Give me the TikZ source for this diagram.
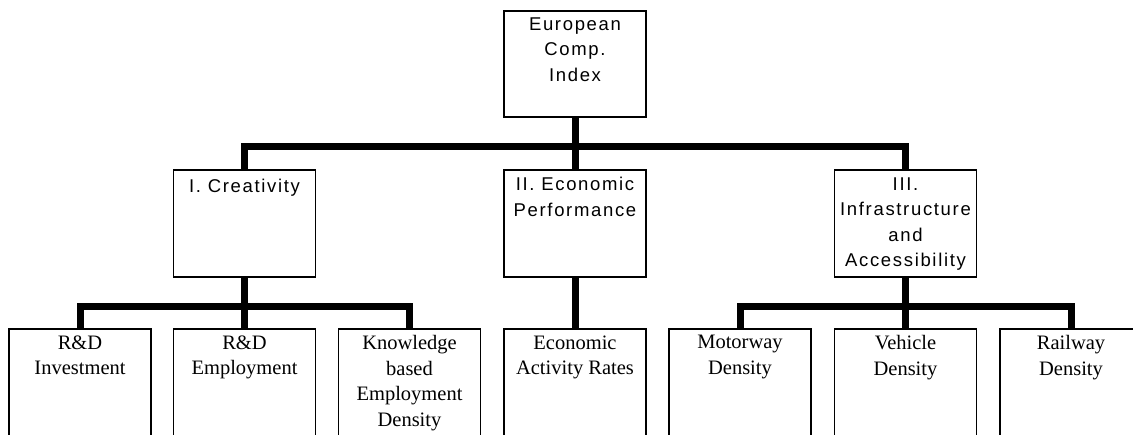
\documentclass[tikz,border=0pt]{standalone}
\usepackage{fontspec}
\setmainfont{Liberation Serif}
\newfontfamily\boxsans[LetterSpace=9]{Liberation Sans}
\newcommand{\firstlinestrut}{\rule{0pt}{15pt}}
\begin{document}
\begin{tikzpicture}[x=1pt,y=-1pt,
  box/.style={draw,line width=1.5pt,minimum width=142pt,inner sep=0pt,rectangle},
  topbox/.style={box,minimum height=106pt},
  midbox/.style={box,minimum height=107pt},
  lowbox/.style={box,minimum height=140pt},
  sanstxt/.style={font=\boxsans\fontsize{18.5}{25.5}\selectfont,align=center,anchor=north,inner sep=0pt,execute at begin node=\firstlinestrut},
  seriftxt/.style={font=\fontsize{20.5}{25.5}\selectfont,align=center,anchor=north,inner sep=0pt,execute at begin node=\firstlinestrut},
  conn/.style={line width=7pt,line join=miter,line cap=butt}]
\clip (0,0) rectangle (1133,434);
% level 1
\node[topbox] (top) at (575,64) {};
% level 2
\node[midbox] (cre) at (244.5,223.5) {};
\node[midbox] (eco) at (575,223.5) {};
\node[midbox] (inf) at (905.5,223.5) {};
% level 3
\node[lowbox] (rdi) at (80,399) {};
\node[lowbox] (rde) at (244.5,399) {};
\node[lowbox] (kbe) at (409.5,399) {};
\node[lowbox] (ear) at (575,399) {};
\node[lowbox] (mot) at (740,399) {};
\node[lowbox] (veh) at (905.5,399) {};
\node[lowbox] (rai) at (1071,399) {};
% texts
\node[sanstxt] at ([yshift=-7]top.north) {European\\Comp.\\Index};
\node[sanstxt] at ([yshift=-8]cre.north) {I. Creativity};
\node[sanstxt] at ([yshift=-8]eco.north) {II. Economic\\Performance};
\node[sanstxt] at ([yshift=-8]inf.north) {III.\\Infrastructure\\and\\Accessibility};
\node[seriftxt] at ([yshift=-7]rdi.north) {R\&D\\Investment};
\node[seriftxt] at ([yshift=-7]rde.north) {R\&D\\Employment};
\node[seriftxt] at ([yshift=-7]kbe.north) {Knowledge\\based\\Employment\\Density};
\node[seriftxt] at ([yshift=-7]ear.north) {Economic\\Activity Rates};
\node[seriftxt] at ([yshift=-7]mot.north) {Motorway\\Density};
\node[seriftxt] at ([yshift=-7]veh.north) {Vehicle\\Density};
\node[seriftxt] at ([yshift=-7]rai.north) {Railway\\Density};
% connectors
\coordinate (j1) at (575,146.5);
\coordinate (j2) at (244.5,306.5);
\coordinate (j3) at (905.5,306.5);
\draw[conn] (top.south) -- (eco.north);
\draw[conn] (cre.north) |- (j1) -| (inf.north);
\draw[conn] (cre.south) -- (rde.north);
\draw[conn] (rdi.north) |- (j2) -| (kbe.north);
\draw[conn] (eco.south) -- (ear.north);
\draw[conn] (inf.south) -- (veh.north);
\draw[conn] (mot.north) |- (j3) -| (rai.north);
\end{tikzpicture}
\end{document}
